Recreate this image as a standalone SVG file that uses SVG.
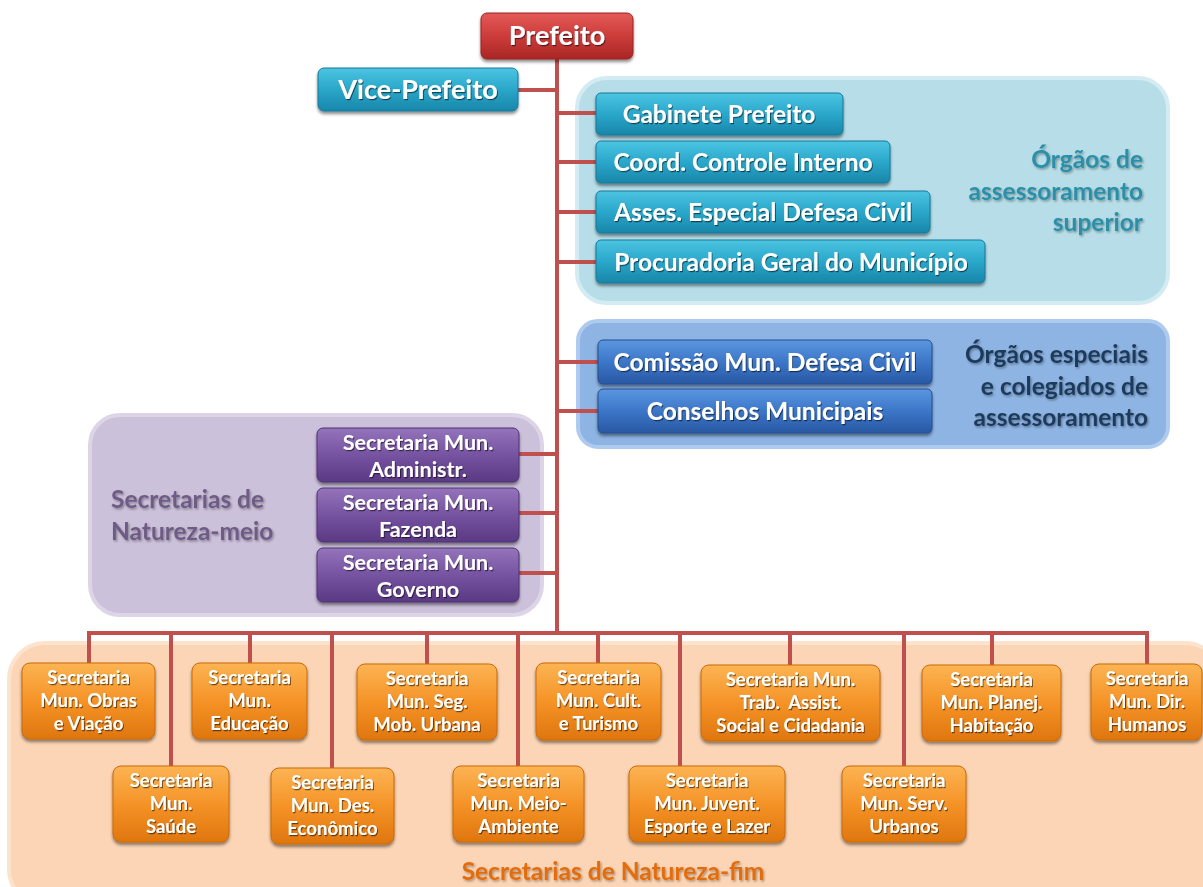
<svg xmlns="http://www.w3.org/2000/svg" width="1203" height="887" viewBox="0 0 1203 887">
<defs>
<linearGradient id="gRed" x1="0" y1="0" x2="0" y2="1"><stop offset="0" stop-color="#e35a58"/><stop offset="0.5" stop-color="#cc3c3a"/><stop offset="1" stop-color="#a92625"/></linearGradient>
<linearGradient id="gTeal" x1="0" y1="0" x2="0" y2="1"><stop offset="0" stop-color="#4cc4e2"/><stop offset="0.5" stop-color="#2aa7ca"/><stop offset="1" stop-color="#1886a9"/></linearGradient>
<linearGradient id="gBlue" x1="0" y1="0" x2="0" y2="1"><stop offset="0" stop-color="#5b96e0"/><stop offset="0.5" stop-color="#3c76c8"/><stop offset="1" stop-color="#2858a3"/></linearGradient>
<linearGradient id="gPurp" x1="0" y1="0" x2="0" y2="1"><stop offset="0" stop-color="#9474bb"/><stop offset="0.5" stop-color="#7653a1"/><stop offset="1" stop-color="#5a3983"/></linearGradient>
<linearGradient id="gOr" x1="0" y1="0" x2="0" y2="1"><stop offset="0" stop-color="#fcb453"/><stop offset="0.5" stop-color="#f59327"/><stop offset="1" stop-color="#df760e"/></linearGradient>
<filter id="sh" x="-10%" y="-20%" width="120%" height="150%"><feDropShadow dx="0" dy="2.5" stdDeviation="1.8" flood-color="#000" flood-opacity="0.45"/></filter>
<filter id="ts" x="-5%" y="-20%" width="110%" height="150%"><feDropShadow dx="1" dy="1.2" stdDeviation="0.7" flood-color="#000" flood-opacity="0.55"/></filter>
<filter id="ls" x="-5%" y="-20%" width="110%" height="150%"><feDropShadow dx="1.2" dy="1.5" stdDeviation="1" flood-color="#000" flood-opacity="0.35"/></filter>
</defs>
<style>
text{font-family:Lato,"Liberation Sans",sans-serif;font-weight:bold;}
.nt{fill:#fff;text-anchor:middle;filter:url(#ts);}
.big{font-size:27px;}
.mid{font-size:24.5px;}
.pu{font-size:21.5px;}
.sm{font-size:18.5px;}
.box{filter:url(#sh);stroke-width:1;}
.red{fill:url(#gRed);stroke:#9c2322;}
.teal{fill:url(#gTeal);stroke:#16799a;}
.blue{fill:url(#gBlue);stroke:#234f93;}
.purp{fill:url(#gPurp);stroke:#4f3275;}
.or{fill:url(#gOr);stroke:#c96a0c;}
.con{stroke:#c0504d;stroke-width:4;fill:none;}
.reg{stroke-width:4;}
.lab{font-size:24.5px;filter:url(#ls);}
</style>

<g id="regions">
<rect x="577" y="78" width="591" height="225" rx="30" fill="#b7dee8" stroke="#d3ebf2" class="reg"/>
<rect x="578" y="321" width="590" height="126" rx="20" fill="#8eb4e3" stroke="#aecaee" class="reg"/>
<rect x="90" y="415" width="452" height="200" rx="30" fill="#ccc1da" stroke="#ddd5e7" class="reg"/>
<rect x="9" y="643" width="1212" height="262" rx="36" fill="#fbd5b5" stroke="#fde3cc" class="reg"/>
</g>

<g id="region-labels">
<text class="lab" x="1143" y="168" text-anchor="end" fill="#2b8fa8">Órgãos de</text>
<text class="lab" x="1143" y="200" text-anchor="end" fill="#2b8fa8">assessoramento</text>
<text class="lab" x="1143" y="231" text-anchor="end" fill="#2b8fa8">superior</text>
<text class="lab" x="1148" y="363" text-anchor="end" fill="#1f3a5c">Órgãos especiais</text>
<text class="lab" x="1148" y="395" text-anchor="end" fill="#1f3a5c">e colegiados de</text>
<text class="lab" x="1148" y="426" text-anchor="end" fill="#1f3a5c">assessoramento</text>
<text class="lab" x="111" y="508" fill="#6e5b86">Secretarias de</text>
<text class="lab" x="111" y="540" fill="#6e5b86">Natureza-meio</text>
<text class="lab" x="613" y="880" text-anchor="middle" fill="#e36c0a">Secretarias de Natureza-fim</text>
</g>

<g id="connectors">
<path class="con" d="M557 59 V633"/>
<path class="con" d="M518 90 H557"/>
<path class="con" d="M557 113 H596 M557 162 H596 M557 212 H596 M557 262 H596 M557 362 H598 M557 411 H598"/>
<path class="con" d="M519 454 H557 M519 513 H557 M519 573 H557"/>
<path class="con" d="M89 663 V633 H1147 V664"/>
<path class="con" d="M171 633 V766 M250 633 V663 M332 633 V768 M427 633 V664 M518 633 V766 M598 633 V663 M680 633 V766 M790 633 V665 M904 633 V766 M992 633 V665"/>
</g>

<g id="prefeito"><rect class="box red" x="481" y="13" width="152" height="46" rx="6"/><text class="nt big" x="557" y="45">Prefeito</text></g>
<g id="vice-prefeito"><rect class="box teal" x="318" y="68" width="200" height="43" rx="6"/><text class="nt big" x="418" y="99">Vice-Prefeito</text></g>

<g id="gabinete"><rect class="box teal" x="596" y="93" width="247" height="42" rx="5"/><text class="nt mid" x="719" y="123">Gabinete Prefeito</text></g>
<g id="controle"><rect class="box teal" x="596" y="141" width="294" height="42" rx="5"/><text class="nt mid" x="743" y="171">Coord. Controle Interno</text></g>
<g id="defesa"><rect class="box teal" x="596" y="191" width="334" height="42" rx="5"/><text class="nt mid" x="763" y="221">Asses. Especial Defesa Civil</text></g>
<g id="procuradoria"><rect class="box teal" x="596" y="240" width="389" height="43" rx="5"/><text class="nt mid" x="791" y="271">Procuradoria Geral do Município</text></g>

<g id="comissao"><rect class="box blue" x="598" y="340" width="334" height="44" rx="5"/><text class="nt mid" x="765" y="371">Comissão Mun. Defesa Civil</text></g>
<g id="conselhos"><rect class="box blue" x="598" y="389" width="334" height="44" rx="5"/><text class="nt mid" x="765" y="420">Conselhos Municipais</text></g>

<g id="administr"><rect class="box purp" x="317" y="428" width="202" height="54" rx="6"/><text class="nt pu" x="418" y="450">Secretaria Mun.</text><text class="nt pu" x="418" y="477">Administr.</text></g>
<g id="fazenda"><rect class="box purp" x="317" y="488" width="202" height="54" rx="6"/><text class="nt pu" x="418" y="510">Secretaria Mun.</text><text class="nt pu" x="418" y="537">Fazenda</text></g>
<g id="governo"><rect class="box purp" x="317" y="548" width="202" height="54" rx="6"/><text class="nt pu" x="418" y="570">Secretaria Mun.</text><text class="nt pu" x="418" y="597">Governo</text></g>

<g id="obras"><rect class="box or" x="22" y="663" width="133" height="76" rx="8"/><text class="nt sm" x="88.5" y="684">Secretaria</text><text class="nt sm" x="88.5" y="707">Mun. Obras</text><text class="nt sm" x="88.5" y="730">e Viação</text></g>
<g id="educacao"><rect class="box or" x="192" y="663" width="115" height="76" rx="8"/><text class="nt sm" x="249.5" y="684">Secretaria</text><text class="nt sm" x="249.5" y="707">Mun.</text><text class="nt sm" x="249.5" y="730">Educação</text></g>
<g id="seguranca"><rect class="box or" x="357" y="664" width="140" height="76" rx="8"/><text class="nt sm" x="427" y="685">Secretaria</text><text class="nt sm" x="427" y="708">Mun. Seg.</text><text class="nt sm" x="427" y="731">Mob. Urbana</text></g>
<g id="cultura"><rect class="box or" x="536" y="663" width="125" height="77" rx="8"/><text class="nt sm" x="598.5" y="684">Secretaria</text><text class="nt sm" x="598.5" y="707">Mun. Cult.</text><text class="nt sm" x="598.5" y="730">e Turismo</text></g>
<g id="trabalho"><rect class="box or" x="701" y="665" width="179" height="76" rx="8"/><text class="nt sm" x="790.5" y="686">Secretaria Mun.</text><text class="nt sm" x="790.5" y="709" xml:space="preserve">Trab.  Assist.</text><text class="nt sm" x="790.5" y="732">Social e Cidadania</text></g>
<g id="planejamento"><rect class="box or" x="922" y="665" width="139" height="76" rx="8"/><text class="nt sm" x="991.5" y="686">Secretaria</text><text class="nt sm" x="991.5" y="709">Mun. Planej.</text><text class="nt sm" x="991.5" y="732">Habitação</text></g>
<g id="direitos"><rect class="box or" x="1091" y="664" width="111" height="76" rx="8"/><text class="nt sm" x="1147" y="685">Secretaria</text><text class="nt sm" x="1147" y="708">Mun. Dir.</text><text class="nt sm" x="1147" y="731">Humanos</text></g>

<g id="saude"><rect class="box or" x="113" y="766" width="116" height="76" rx="8"/><text class="nt sm" x="171" y="787">Secretaria</text><text class="nt sm" x="171" y="810">Mun.</text><text class="nt sm" x="171" y="833">Saúde</text></g>
<g id="desenvolvimento"><rect class="box or" x="271" y="768" width="123" height="76" rx="8"/><text class="nt sm" x="332.5" y="789">Secretaria</text><text class="nt sm" x="332.5" y="812">Mun. Des.</text><text class="nt sm" x="332.5" y="835">Econômico</text></g>
<g id="meio-ambiente"><rect class="box or" x="453" y="766" width="131" height="76" rx="8"/><text class="nt sm" x="518.5" y="787">Secretaria</text><text class="nt sm" x="518.5" y="810">Mun. Meio-</text><text class="nt sm" x="518.5" y="833">Ambiente</text></g>
<g id="juventude"><rect class="box or" x="629" y="766" width="156" height="76" rx="8"/><text class="nt sm" x="707" y="787">Secretaria</text><text class="nt sm" x="707" y="810">Mun. Juvent.</text><text class="nt sm" x="707" y="833">Esporte e Lazer</text></g>
<g id="servicos"><rect class="box or" x="842" y="766" width="124" height="76" rx="8"/><text class="nt sm" x="904" y="787">Secretaria</text><text class="nt sm" x="904" y="810">Mun. Serv.</text><text class="nt sm" x="904" y="833">Urbanos</text></g>
</svg>
